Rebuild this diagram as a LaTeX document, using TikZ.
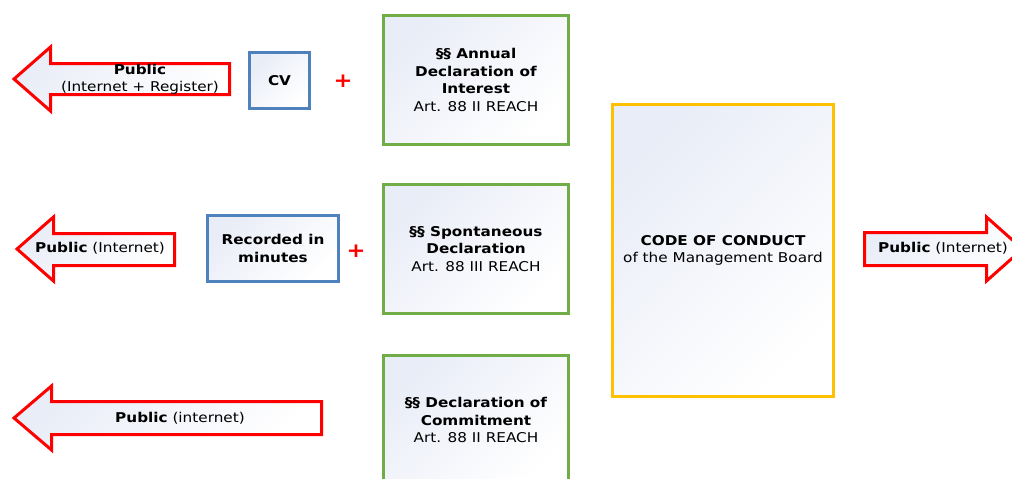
\documentclass[tikz,border=0pt]{standalone}
\usepackage{fontspec}
\setmainfont{DejaVu Sans}[FakeStretch=1.13]
\usepackage{tikz}
\usetikzlibrary{positioning}
\definecolor{declColor}{HTML}{70AD47}
\definecolor{noteColor}{HTML}{4F81BD}
\definecolor{codeColor}{HTML}{FFC000}
\definecolor{shadeColor}{HTML}{E9EDF7}
\definecolor{pubColor}{HTML}{FF0000}
\tikzstyle{softfill} = [top color=shadeColor,
bottom color=white,
shading angle=45]
\tikzstyle{declbox} = [rectangle,
draw=declColor,
line width=3pt,
softfill,
minimum width=185pt,
minimum height=129pt,
align=center]
\tikzstyle{notebox} = [rectangle,
draw=noteColor,
line width=3pt,
softfill,
align=center]
\tikzstyle{codebox} = [rectangle,
draw=codeColor,
line width=3pt,
softfill,
minimum width=221pt,
minimum height=292pt,
align=center]
\tikzstyle{pubarrow} = [draw=pubColor,
line width=3pt,
softfill]
\tikzstyle{pubtext} = [align=center, inner sep=0pt]
\tikzstyle{plus} = [text=pubColor, font=\fontsize{20}{20}\selectfont\bfseries, inner sep=0pt]

\begin{document}
\begin{tikzpicture}[x=1pt,y=-1pt,node distance=37pt,font=\fontsize{13.5}{17.5}\selectfont]
    \path[use as bounding box, clip] (0,0) rectangle (1012,479);

    % Nodes
    \node[declbox] (annual) at (476,80) {\textbf{§§ Annual}\\\textbf{Declaration of}\\\textbf{Interest}\\Art. 88 II REACH};
    \node[declbox, below=of annual] (spontan) {\textbf{§§ Spontaneous}\\\textbf{Declaration}\\Art. 88 III REACH};
    \node[declbox, below=of spontan, yshift=-2pt] (commit) {\textbf{§§ Declaration of}\\\textbf{Commitment}\\Art. 88 II REACH};
    \node[notebox, minimum width=60pt, minimum height=56pt] (cv) at (279.5,80.5) {\textbf{CV}};
    \node[notebox, minimum width=131pt, minimum height=66pt] (minutes) at (273,248.5) {\textbf{Recorded in}\\\textbf{minutes}};
    \node[codebox] (code) at (723,250.5) {\textbf{CODE OF CONDUCT}\\of the Management Board};
    \node[plus] (plusA) at (343,81) {+};
    \node[plus] (plusB) at (356,251) {+};

    % Arrows
    \coordinate (tipA) at (14,79);
    \coordinate (tipB) at (17,249);
    \coordinate (tipC) at (14,418);
    \coordinate (tipD) at (1022.5,249);
    \draw[pubarrow] (tipA) -- ++(36.5,-32) -- ++(0,16.5) -- ++(179,0) -- ++(0,31) -- ++(-179,0) -- ++(0,16.5) -- cycle;
    \draw[pubarrow] (tipB) -- ++(36.5,-32) -- ++(0,16.5) -- ++(121,0) -- ++(0,32) -- ++(-121,0) -- ++(0,15.5) -- cycle;
    \draw[pubarrow] (tipC) -- ++(37.5,-32) -- ++(0,15.5) -- ++(270,0) -- ++(0,33) -- ++(-270,0) -- ++(0,15.5) -- cycle;
    \draw[pubarrow] (tipD) -- ++(-36,-32) -- ++(0,15.5) -- ++(-122,0) -- ++(0,33) -- ++(122,0) -- ++(0,15.5) -- cycle;

    % Labels
    \node[pubtext] (pubA) at (140,79.5) {\textbf{Public}\\(Internet + Register)};
    \node[pubtext] (pubB) at (100,248) {\textbf{Public} (Internet)};
    \node[pubtext] (pubC) at (180,418) {\textbf{Public} (internet)};
    \node[pubtext] (pubD) at (943,248) {\textbf{Public} (Internet)};
\end{tikzpicture}
\end{document}
